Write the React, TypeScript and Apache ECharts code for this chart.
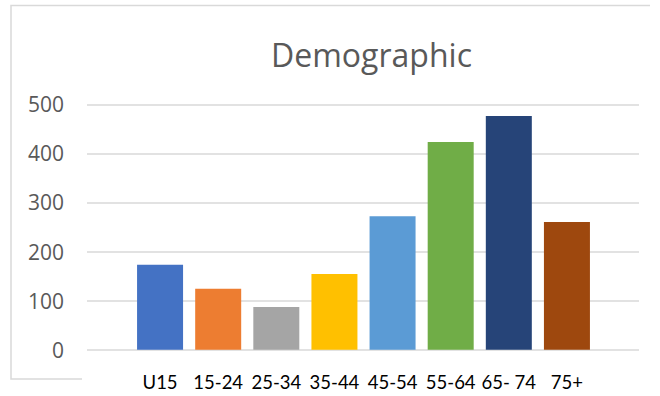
import React, { useEffect, useRef } from "react";
import * as echarts from "echarts";

const categories = ["U15", "15-24", "25-34", "35-44", "45-54", "55-64", "65- 74", "75+"];
const values = [173, 124, 87, 154, 272, 423, 476, 260];
const barColors = ["#4472C4", "#ED7D31", "#A5A5A5", "#FFC000", "#5B9BD5", "#70AD47", "#264478", "#9E480E"];
const yMin = 0;
const yMax = 500;
const yInterval = 100;
const titleText = "Demographic";

export default function App() {
  const ref = useRef<HTMLDivElement>(null);
  useEffect(() => {
    if (!ref.current) return;
    const chart = echarts.init(ref.current, undefined, { renderer: "svg" });
    const gridTop = 104.3;
    const gridHeight = 245.4;
    chart.setOption({
      animation: false,
      backgroundColor: "#ffffff",
      grid: [
        { left: 87, right: 21, top: gridTop, height: gridHeight },
        { left: 131, right: 64, top: gridTop, height: gridHeight },
      ],
      xAxis: [
        { type: "value", gridIndex: 0, show: false, min: 0, max: 1 },
        {
          type: "category",
          gridIndex: 1,
          data: categories,
          axisLine: { show: false },
          axisTick: { show: false },
          axisLabel: { fontFamily: "Lato", fontSize: 18.5, color: "#000000", margin: 23, interval: 0 },
        },
      ],
      yAxis: [
        {
          type: "value",
          gridIndex: 0,
          min: yMin,
          max: yMax,
          interval: yInterval,
          axisLine: { show: false },
          axisTick: { show: false },
          axisLabel: { fontFamily: "Open Sans", fontSize: 21, color: "#595959", margin: 23 },
          splitLine: { lineStyle: { color: "#d9d9d9", width: 1.5 } },
        },
        { type: "value", gridIndex: 1, min: yMin, max: yMax, interval: yInterval, show: false, splitLine: { show: false } },
      ],
      series: [
        {
          type: "bar",
          xAxisIndex: 1,
          yAxisIndex: 1,
          barWidth: 46,
          data: values.map((v, i) => ({ value: v, itemStyle: { color: barColors[i] } })),
        },
      ],
      graphic: [
        {
          type: "polyline",
          shape: { points: [[650, 5.5], [11, 5.5], [11, 379], [82, 379]] },
          style: { stroke: "#d9d9d9", lineWidth: 1.5, fill: null },
          silent: true,
        },
        {
          type: "text",
          x: 371.5,
          y: 54,
          style: {
            text: titleText,
            fontFamily: "Open Sans",
            fontSize: 32,
            fill: "#595959",
            align: "center",
            verticalAlign: "middle",
          },
        },
      ],
    });
    return () => chart.dispose();
  }, []);
  return <div ref={ref} style={{ position: "absolute", left: 0, top: 0, width: 660, height: 396 }} />;
}
